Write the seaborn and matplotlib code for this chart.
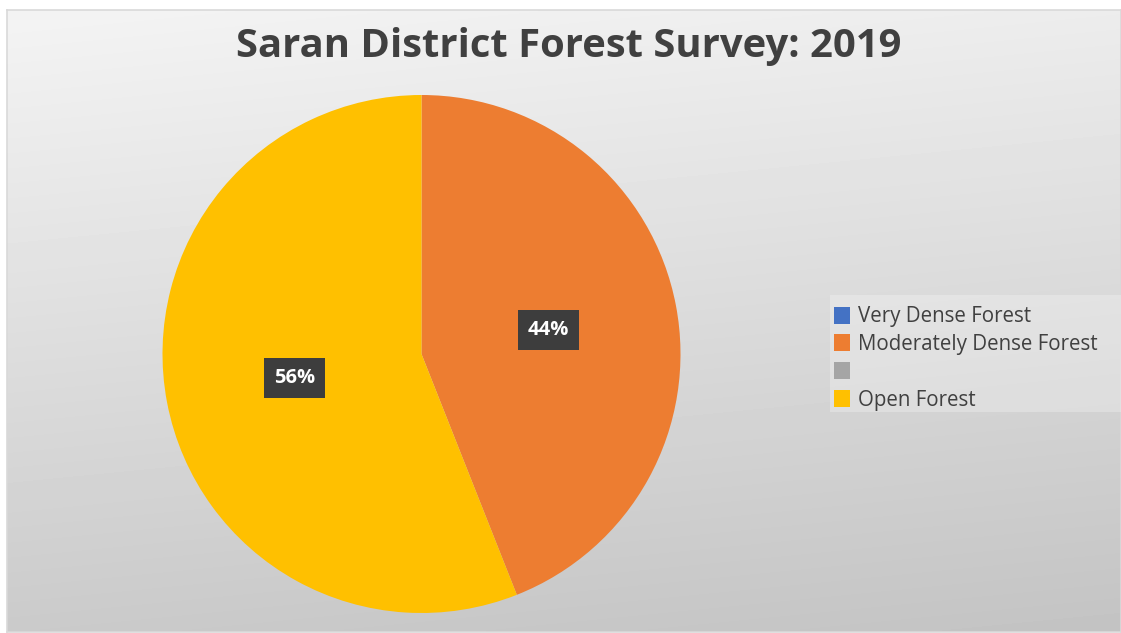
import numpy as np
import matplotlib
matplotlib.use("Agg")
import matplotlib.pyplot as plt
from matplotlib.patches import Patch, Rectangle
import seaborn as sns

# Forest cover shares for Saran district (2019 survey)
categories = ["Very Dense Forest", "Moderately Dense Forest", "", "Open Forest"]
shares = [0, 44, 0, 56]
title = "Saran District Forest Survey: 2019"

sns.set_theme(style="white")
plt.rcParams["font.family"] = ["Open Sans", "DejaVu Sans"]
palette = sns.color_palette(["#4472C4", "#ED7D31", "#A5A5A5", "#FFC000"])

W, H, DPI = 1121, 633, 100
fig = plt.figure(figsize=(W / DPI, H / DPI), dpi=DPI)
fig.patch.set_facecolor("white")

# Chart area: soft grey gradient, lighter at the top
bg = fig.add_axes([7 / W, 1 / H, (W - 7) / W, (H - 11) / H])
yy, xx = np.mgrid[0:1:200j, 0:1:200j]
t = 0.85 * yy + 0.15 * xx
grad = 0.955 - 0.19 * t
bg.imshow(grad, cmap="gray", vmin=0, vmax=1, aspect="auto",
          extent=[0, 1, 0, 1], origin="upper", interpolation="bilinear")
bg.set_xticks([])
bg.set_yticks([])
for s in bg.spines.values():
    s.set_color("#d9d9d9")
    s.set_linewidth(1.2)

fig.text(569 / W, 1 - 47 / H, title, ha="center", va="center",
         fontsize=28.8, fontweight="bold", color="#404040")

# Pie
cx, cy, r = 421.5, 354, 259
ax = fig.add_axes([(cx - r) / W, (H - cy - r) / H, 2 * r / W, 2 * r / H])
ax.set_facecolor("none")


def pct_label(p):
    return f"{p:.0f}%" if p > 0 else ""


wedges, _, autotexts = ax.pie(
    shares, colors=palette, startangle=90, counterclock=False,
    autopct=pct_label, pctdistance=0.5, radius=1.0,
    wedgeprops=dict(linewidth=0),
)
for at in autotexts:
    at.set_color("white")
    at.set_fontweight("bold")
    at.set_fontsize(14.5)
    at.set_bbox(dict(boxstyle="square,pad=0.5", facecolor="#3d3d3d",
                     edgecolor="none"))
ax.set_xlim(-1, 1)
ax.set_ylim(-1, 1)
ax.axis("off")

# Legend band
fig.patches.append(Rectangle((830 / W, 1 - 412 / H), (W - 830) / W, 117 / H,
                             transform=fig.transFigure, facecolor="white",
                             alpha=0.25, edgecolor="none", zorder=1))

handles = [Patch(facecolor=c, edgecolor="none") for c in palette]
leg = fig.legend(handles, categories, loc="upper left",
                 bbox_to_anchor=(825 / W, 1 - 297 / H),
                 frameon=False, fontsize=14.8, labelcolor="#404040",
                 handlelength=0.75, handleheight=0.9, handletextpad=0.4,
                 labelspacing=0.33, borderpad=0.45, borderaxespad=0)

fig.savefig("out.png", dpi=DPI)
